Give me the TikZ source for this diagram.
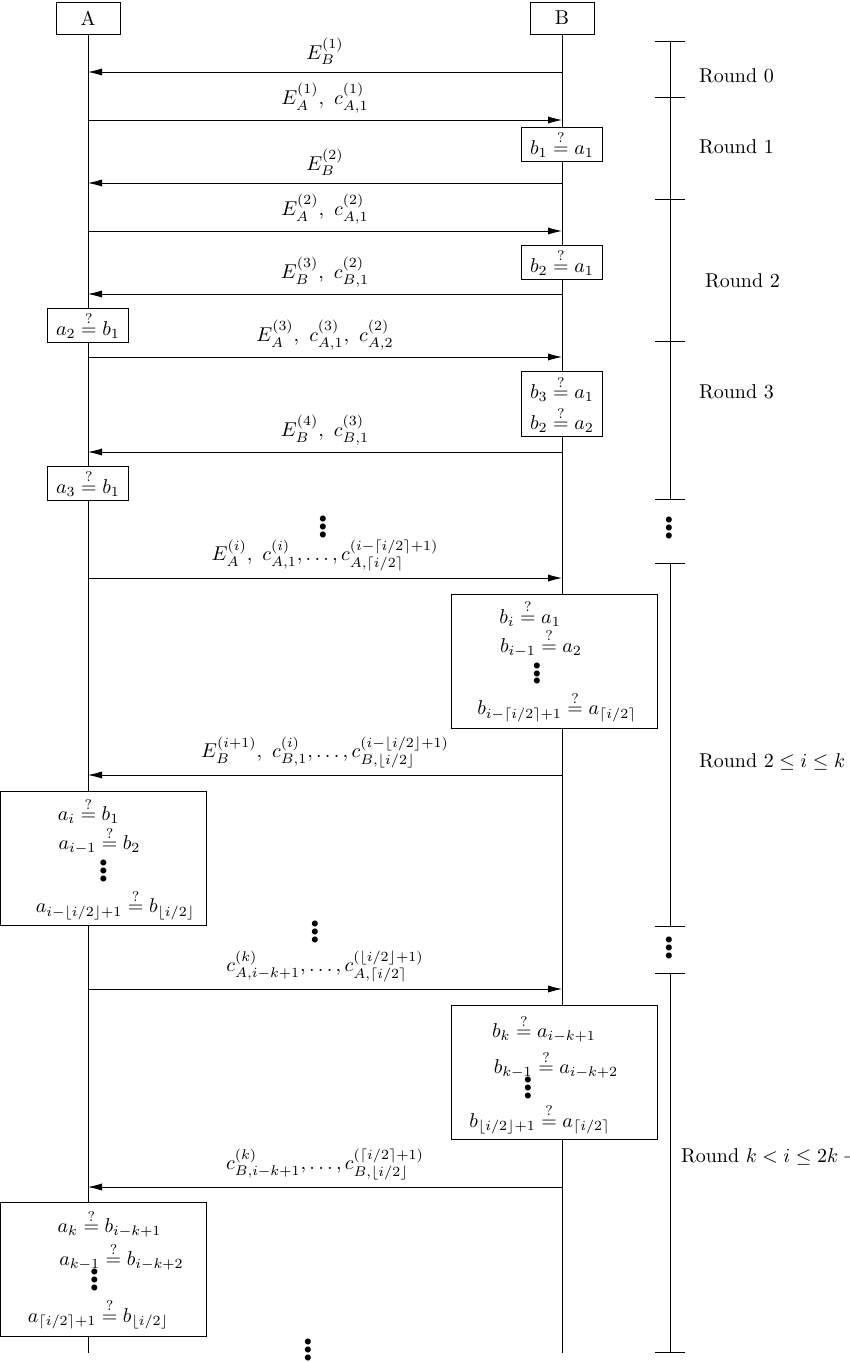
\documentclass[tikz,border=0pt]{standalone}
\usepackage{amsmath}
\usetikzlibrary{arrows.meta}
\tikzset{>={Latex[length=7pt,width=3.6pt]}}
\newcommand{\chk}{\stackrel{?}{=}}
\newcommand{\fatdots}{\vbox{\baselineskip=3.9pt\lineskiplimit=-10pt\hbox{$\scriptstyle\bullet$}\hbox{$\scriptstyle\bullet$}\hbox{$\scriptstyle\bullet$}}}
\newcommand{\nudge}[1]{\hspace*{#1pt}}
\tikzset{
  party/.style={draw,minimum width=32pt,minimum height=16pt},
  test/.style={draw,fill=white,inner sep=2pt,minimum width=40.5pt,minimum height=16pt},
  bigtest/.style={draw,fill=white,align=center,inner sep=2pt,minimum width=103pt,minimum height=67pt},
}

\begin{document}
\begin{tikzpicture}[x=5pt,y=5pt]
  \useasboundingbox (0,0) rectangle (85,-136.2);
  \node[party] (A) at (8.8,-1.8) {A};
  \node[party] (B) at (56.2,-1.8) {B};
  \coordinate (Aend) at (8.8,-135.3);
  \coordinate (Bend) at (56.2,-135.3);
  \draw (A.south) -- (Aend);
  \draw (B.south) -- (Bend);
  % messages
  \draw[->] (B |- 0,-7.2) -- node[above] (m1) {$E_B^{(1)}$} (A |- 0,-7.2);
  \draw[->] (A |- 0,-12.0) -- node[above] (m2) {$E_A^{(1)},\ c_{A,1}^{(1)}$} (B |- 0,-12.0);
  \draw[->] (B |- 0,-18.3) -- node[above] (m3) {$E_B^{(2)}$} (A |- 0,-18.3);
  \draw[->] (A |- 0,-23.1) -- node[above] (m4) {$E_A^{(2)},\ c_{A,1}^{(2)}$} (B |- 0,-23.1);
  \draw[->] (B |- 0,-29.4) -- node[above] (m5) {$E_B^{(3)},\ c_{B,1}^{(2)}$} (A |- 0,-29.4);
  \draw[->] (A |- 0,-35.7) -- node[above] (m6) {$E_A^{(3)},\ c_{A,1}^{(3)},\ c_{A,2}^{(2)}$} (B |- 0,-35.7);
  \draw[->] (B |- 0,-45.2) -- node[above] (m7) {$E_B^{(4)},\ c_{B,1}^{(3)}$} (A |- 0,-45.2);
  \draw[->] (A |- 0,-57.8) -- node[above] (m8) {$E_A^{(i)},\ c_{A,1}^{(i)},\dots,c_{A,\lceil i/2\rceil}^{(i-\lceil i/2\rceil+1)}$} (B |- 0,-57.8);
  \draw[->] (B |- 0,-77.5) -- node[above] (m9) {$E_B^{(i+1)},\ c_{B,1}^{(i)},\dots,c_{B,\lfloor i/2\rfloor}^{(i-\lfloor i/2\rfloor+1)}$} (A |- 0,-77.5);
  \draw[->] (A |- 0,-98.9) -- node[above] (m10) {$c_{A,i-k+1}^{(k)},\dots,c_{A,\lceil i/2\rceil}^{(\lfloor i/2\rfloor+1)}$} (B |- 0,-98.9);
  \draw[->] (B |- 0,-118.7) -- node[above] (m11) {$c_{B,i-k+1}^{(k)},\dots,c_{B,\lfloor i/2\rfloor}^{(\lceil i/2\rceil+1)}$} (A |- 0,-118.7);
  % checks
  \node[test] (t1) at (56.2,-14.4) {$b_1 \chk a_1$};
  \node[test] (t2) at (56.2,-26.2) {$b_2 \chk a_1$};
  \node[test] (t3) at (8.8,-32.5) {$a_2 \chk b_1$};
  \node[test,align=center,minimum height=32pt] (t4) at (56.2,-40.4) {$b_3 \chk a_1$\\[1.5pt] $b_2 \chk a_2$};
  \node[test] (t5) at (8.8,-48.3) {$a_3 \chk b_1$};
  \node[bigtest] (t6) at (55.4,-66.1) {\nudge{-24}$b_i \chk a_1$\\[0.5pt] \nudge{-13}$b_{i-1} \chk a_2$\\[2pt] \nudge{-17}\fatdots\\[3pt] \nudge{3}$b_{i-\lceil i/2\rceil+1} \chk a_{\lceil i/2\rceil}$};
  \node[bigtest] (t7) at (10.35,-85.85) {\nudge{-15}$a_i \chk b_1$\\[0.5pt] \nudge{-4}$a_{i-1} \chk b_2$\\[2pt] \fatdots\\[3pt] \nudge{12}$a_{i-\lfloor i/2\rfloor+1} \chk b_{\lfloor i/2\rfloor}$};
  \node[bigtest] (t8) at (55.4,-107.2) {\nudge{-10}\rule{0pt}{14pt}$b_k \chk a_{i-k+1}$\\[3pt] \nudge{2}$b_{k-1} \chk a_{i-k+2}$\\[-1.5pt] \nudge{-26}\fatdots\\[2pt] \nudge{-14}$b_{\lfloor i/2\rfloor+1} \chk a_{\lceil i/2\rceil}$};
  \node[bigtest] (t9) at (10.35,-126.95) {\nudge{6}$a_k \chk b_{i-k+1}$\\[1.5pt] \nudge{18}$a_{k-1} \chk b_{i-k+2}$\\[-1.5pt] \nudge{-9}\fatdots\\[3.5pt] \nudge{-5}$a_{\lceil i/2\rceil+1} \chk b_{\lfloor i/2\rfloor}$};
  % dots
  \node (d1) at (32.3,-52.7) {\fatdots};
  \node (d2) at (31.5,-93.2) {\fatdots};
  \node (d3) at (30.8,-135.0) {\fatdots};
  % rounds
  \draw (67,-4.1) -- (67,-49.9);
  \draw (67,-56.3) -- (67,-92.6);
  \draw (67,-97.3) -- (67,-135.2);
  \foreach \y in {4.1,9.7,19.9,34.1,49.9,56.3,92.6,97.3,135.2}
    \draw (65.5,-\y) -- (68.5,-\y);
  \node (e1) at (66.9,-52.8) {\fatdots};
  \node (e2) at (66.9,-94.8) {\fatdots};
  \node[anchor=west] (r0) at (69.2,-7.6) {Round 0};
  \node[anchor=west] (r1) at (69.2,-14.7) {Round 1};
  \node[anchor=west] (r2) at (69.8,-28.1) {Round 2};
  \node[anchor=west] (r3) at (69.2,-39.2) {Round 3};
  \node[anchor=west] (r4) at (69.2,-76.2) {Round $2 \leq i \leq k$};
  \node[anchor=west] (r5) at (67.4,-115.7) {Round $k < i \leq 2k -{}$};
\end{tikzpicture}
\end{document}
